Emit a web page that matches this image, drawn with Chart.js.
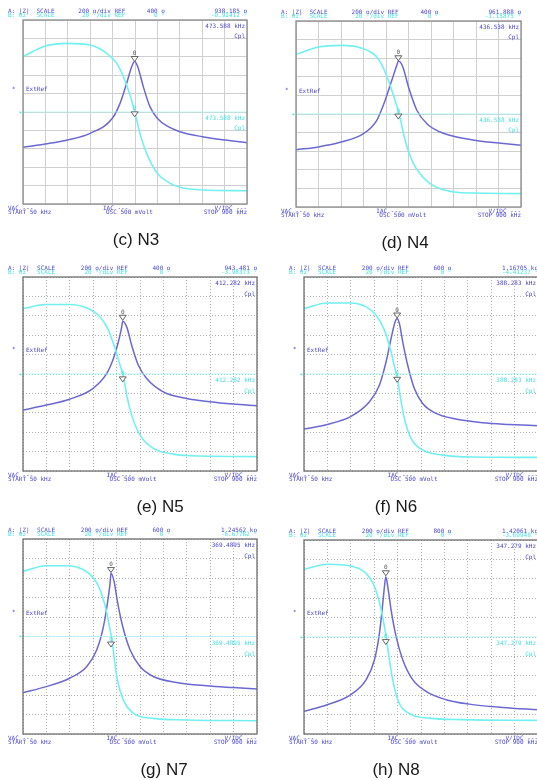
<!DOCTYPE html>
<html>
<head>
<meta charset="utf-8">
<script src="https://cdn.jsdelivr.net/npm/chart.js"></script>
<style>
body { margin: 0; background: #fff; overflow: hidden; width: 537px; height: 780px; position: relative; }
canvas { position: absolute; left: 0; top: 0; }
</style>
</head>
<body>
<script>
// |Z| (ohm) and phase (deg), 50 - 900 kHz
const n3ZFreq = [50, 134.5, 219, 304.7, 389.2, 418.2, 443.4, 462.4, 474, 487.6, 506.5, 531.7, 559.5, 601.1, 645.3, 729.8, 815.5, 900];
const n3Z     = [16, 52, 96, 168, 332, 494, 712, 892, 948, 874, 676, 458, 332, 240, 186, 132, 96, 66];
const n3PFreq = [50, 134.5, 219, 304.7, 367.8, 405.6, 430.8, 456.1, 475, 493.9, 519.1, 559.5, 603.6, 645.3, 729.8, 900];
const n3Ph    = [60.2, 71.8, 74.6, 72.8, 63.8, 52.8, 38.4, 18.4, -0.8, -23.2, -45, -66.6, -76.8, -81.8, -84.8, -85.6];

const n4ZFreq = [50, 134.5, 220.2, 304.7, 355.2, 386.7, 411.9, 430.9, 437, 453.6, 475, 506.5, 544.4, 594.8, 645.3, 729.8, 815.5, 900];
const n4Z     = [16, 46, 98, 188, 332, 546, 762, 924, 970, 906, 690, 440, 296, 206, 160, 116, 88, 64];
const n4PFreq = [50, 134.5, 220.2, 304.7, 355.2, 386.7, 411.9, 440.9, 462.4, 493.9, 541.7, 592.2, 645.3, 729.8, 900];
const n4Ph    = [64.2, 72, 73.8, 70.2, 61.2, 45.2, 25.4, -1.4, -28.4, -53.4, -71.4, -80.2, -83.8, -85, -85.6];

const n5ZFreq = [50, 134.5, 219, 303.6, 354.3, 378.4, 396.5, 408.6, 412.3, 426.7, 444.8, 469, 499.2, 559.5, 644, 728.6, 813.1, 900];
const n5Z     = [28, 80, 140, 250, 406, 560, 732, 886, 945, 886, 696, 490, 354, 216, 148, 114, 90, 72];
const n5PFreq = [50, 134.5, 219, 281.8, 330.1, 360.3, 384.4, 402.6, 414.6, 426.7, 444.8, 475, 523.3, 595.7, 692.3, 900];
const n5Ph    = [67.4, 71.6, 71.6, 68, 58.8, 45.2, 26.2, 9, -1.8, -21.8, -42.4, -63, -76.6, -82.6, -84.6, -85.2];

const n6ZFreq = [50, 134.5, 219, 287.9, 324.1, 348.2, 366.3, 380.8, 388.3, 396.5, 408.6, 426.7, 450.9, 481, 529.3, 601.8, 698.4, 794.9, 900];
const n6Z     = [32, 80, 160, 314, 486, 726, 966, 1136, 1172, 1120, 932, 690, 450, 296, 194, 136, 98, 80, 66];
const n6PFreq = [50, 134.5, 219, 275.8, 312, 342.2, 366.3, 382, 388, 398.9, 414.6, 438.8, 481, 553.5, 674.2, 900];
const n6Ph    = [67.4, 73.2, 73.2, 69.2, 60.6, 45.2, 22.8, 4, -1.8, -21.8, -45.8, -66.4, -78.4, -83.6, -85.6, -86];

const n7ZFreq = [50, 134.5, 219, 281.8, 318, 342.2, 356.7, 366.3, 369.5, 380.8, 392.9, 412.2, 438.8, 475, 523.3, 607.8, 716.5, 813.1, 900];
const n7Z     = [24, 86, 172, 292, 464, 702, 942, 1148, 1248, 1166, 960, 702, 464, 292, 190, 128, 94, 76, 62];
const n7PFreq = [50, 134.5, 209.4, 269.7, 306, 330.1, 351.8, 366.3, 372.4, 380.8, 392.9, 414.6, 450.9, 523.3, 644, 900];
const n7Ph    = [66.8, 72.6, 72.6, 68.4, 60, 48, 27.4, 6.8, -1.8, -20.6, -44.6, -65, -78.8, -84, -85.6, -86.4];

const n8ZFreq = [50, 134.5, 219, 275.8, 306, 324.1, 336.2, 342.2, 347.3, 354.3, 366.3, 384.4, 408.6, 444.8, 493.1, 565.6, 650.1, 770.8, 900];
const n8Z     = [34, 102, 204, 360, 566, 840, 1148, 1320, 1420, 1320, 1080, 806, 566, 360, 240, 154, 108, 74, 50];
const n8PFreq = [50, 134.5, 219, 275.8, 306, 327.7, 342.2, 348.2, 356.7, 370, 390.5, 432.8, 505.2, 625.9, 900];
const n8Ph    = [69.8, 75, 73.2, 65.6, 52, 31.4, 10.8, 0.6, -16.6, -40.6, -64.6, -79, -83.6, -85.2, -86];

// marker readouts: frequency (kHz), |Z| (ohm), phase (deg)
const markFreq  = [473.588, 436.538, 412.282, 388.283, 369.4895, 347.279];
const markZ     = [938.185, 961.888, 943.481, 1167.05, 1245.62, 1420.61];
const markPh    = [-0.92412, -1.15875, -3.98373, -4.41237, -6.67782, -3.69948];
const markZText = ['938.185 o', '961.888 o', '943.481 o', '1.16705 ko', '1.24562 ko', '1.42061 ko'];
const markFText = ['473.588 kHz', '436.538 kHz', '412.282 kHz', '388.283 kHz', '369.4895 kHz', '347.279 kHz'];
const refZ      = [400, 400, 400, 600, 600, 800];
const captions  = ['(c) N3', '(d) N4', '(e) N5', '(f) N6', '(g) N7', '(h) N8'];

const series = [
  [n3ZFreq, n3Z, n3PFreq, n3Ph],
  [n4ZFreq, n4Z, n4PFreq, n4Ph],
  [n5ZFreq, n5Z, n5PFreq, n5Ph],
  [n6ZFreq, n6Z, n6PFreq, n6Ph],
  [n7ZFreq, n7Z, n7PFreq, n7Ph],
  [n8ZFreq, n8Z, n8PFreq, n8Ph]
];

// frame boxes on the page [left, top, right, bottom], caption centre x
const boxes = [[23, 20, 247, 204], [296, 21, 521, 207], [23, 277, 257, 471], [304, 277, 538, 471], [23, 539, 257, 734], [304, 540, 538, 734]];
const capX = [136, 405, 160, 396, 164, 396];

const W = 545, H = 780;
const BLUE = '#6c68d2', CYAN = '#72f0f0', BTXT = '#4a46cc', CTXT = '#48e0e0';
const MONO = '6px "DejaVu Sans Mono"';

function zip(xs, ys) { return xs.map((x, i) => ({x: x, y: ys[i]})); }

function tri(ctx, x, y, col) {
  ctx.beginPath();
  ctx.moveTo(x, y);
  ctx.lineTo(x - 3.5, y - 5);
  ctx.lineTo(x + 3.5, y - 5);
  ctx.closePath();
  ctx.fillStyle = '#fff';
  ctx.fill();
  ctx.strokeStyle = col;
  ctx.lineWidth = 0.9;
  ctx.stroke();
}

function t(ctx, s, x, y, col, align) {
  ctx.fillStyle = col;
  ctx.textAlign = align || 'left';
  ctx.fillText(s, x, y);
}

const screenPlugin = {
  id: 'screen',
  afterDraw(chart) {
    const i = chart.options.plugins.screen.idx;
    const ctx = chart.ctx, a = chart.chartArea;
    const L = a.left, R = a.right, T = a.top, B = a.bottom, w = R - L, h = B - T;
    const xs = chart.scales.x, ys = chart.scales.y, yp = chart.scales.y1;
    ctx.save();
    ctx.strokeStyle = i < 2 ? '#8a8a8a' : '#6e6e6e';
    ctx.lineWidth = 1.3;
    ctx.strokeRect(L, T, w, h);

    ctx.font = MONO;
    ctx.textBaseline = 'middle';
    // header
    t(ctx, 'A: |Z|', L - 15, T - 9, BTXT);
    t(ctx, 'SCALE', L + 0.06 * w, T - 9, BTXT);
    t(ctx, '200 o/div REF', L + 0.247 * w, T - 9, BTXT);
    t(ctx, refZ[i] + ' o', L + 0.553 * w, T - 9, BTXT);
    t(ctx, markZText[i], R, T - 9, BTXT, 'right');
    t(ctx, 'B: θz', L - 15, T - 4.5, CTXT);
    t(ctx, 'SCALE', L + 0.06 * w, T - 4.5, CTXT);
    t(ctx, ' 20 °/div REF', L + 0.247 * w, T - 4.5, CTXT);
    t(ctx, '  0 °', L + 0.553 * w, T - 4.5, CTXT);
    t(ctx, markPh[i] + ' °', R, T - 4.5, CTXT, 'right');
    // footer
    t(ctx, 'VAC ---', L - 15, B + 4, BTXT);
    t(ctx, 'START 50 kHz', L - 15, B + 8.5, BTXT);
    t(ctx, 'IAC ---', L + 0.357 * w, B + 4, BTXT);
    t(ctx, 'OSC 500 mVolt', L + 0.357 * w + 3, B + 8.5, BTXT);
    t(ctx, 'V/IDC ---', R, B + 4, BTXT, 'right');
    t(ctx, 'STOP 900 kHz', R, B + 8.5, BTXT, 'right');
    // inside the frame
    t(ctx, markFText[i], R - 2, T + 0.035 * h, BTXT, 'right');
    t(ctx, 'Cpl', R - 2, T + 0.088 * h, BTXT, 'right');
    t(ctx, markFText[i], R - 2, T + 0.535 * h, CTXT, 'right');
    t(ctx, 'Cpl', R - 2, T + 0.59 * h, CTXT, 'right');
    t(ctx, 'ExtRef', L + 3, T + 0.38 * h, BTXT);
    t(ctx, '*', L - 11, T + 0.375 * h, BTXT);
    t(ctx, '▸', L - 4, yp.getPixelForValue(0), CTXT);

    // markers
    const mx = xs.getPixelForValue(markFreq[i]);
    const mz = ys.getPixelForValue(markZ[i]);
    const mp = yp.getPixelForValue(markPh[i]);
    tri(ctx, mx, mz - 1, '#555');
    t(ctx, '0', mx, mz - 9, '#555', 'center');
    tri(ctx, mx, mp + 4, '#555');
    t(ctx, '0', mx, mp - 4, CTXT, 'center');

    // caption
    ctx.font = '17px "Liberation Sans"';
    t(ctx, captions[i], capX[i], B + 36, '#1a1a1a', 'center');
    ctx.restore();
  }
};

boxes.forEach((b, i) => {
  const cv = document.createElement('canvas');
  cv.width = W; cv.height = H;
  cv.style.width = W + 'px'; cv.style.height = H + 'px';
  document.body.appendChild(cv);
  const s = series[i];
  const dotted = i >= 2;
  const grid = {
    color: dotted ? '#9a9a9a' : '#cfcfcf',
    lineWidth: dotted ? 0.8 : 1,
    tickBorderDash: [],
    drawTicks: false
  };
  new Chart(cv.getContext('2d'), {
    type: 'line',
    data: {
      datasets: [
        {data: [{x: 50, y: 0}, {x: 900, y: 0}], yAxisID: 'y1', borderColor: '#a8f6f6', borderWidth: 0.8, pointRadius: 0},
        {data: zip(s[2], s[3]), yAxisID: 'y1', borderColor: CYAN, borderWidth: 1.6, pointRadius: 0, cubicInterpolationMode: 'monotone'},
        {data: zip(s[0], s[1]), yAxisID: 'y', borderColor: BLUE, borderWidth: 1.5, pointRadius: 0, cubicInterpolationMode: 'monotone'}
      ]
    },
    options: {
      responsive: false,
      animation: false,
      layout: {padding: {left: b[0], top: b[1], right: W - b[2], bottom: H - b[3]}},
      plugins: {legend: {display: false}, tooltip: {enabled: false}, screen: {idx: i}},
      scales: {
        x: {type: 'linear', min: 50, max: 900, ticks: {display: false, stepSize: 85},
            grid: grid, border: {display: false, dash: dotted ? [1, 2] : []}},
        y: {min: refZ[i] - 1000, max: refZ[i] + 1000, ticks: {display: false, stepSize: 200},
            grid: grid, border: {display: false, dash: dotted ? [1, 2] : []}},
        y1: {position: 'right', display: false, min: -100, max: 100}
      }
    },
    plugins: [screenPlugin]
  });
});
</script>
</body>
</html>
